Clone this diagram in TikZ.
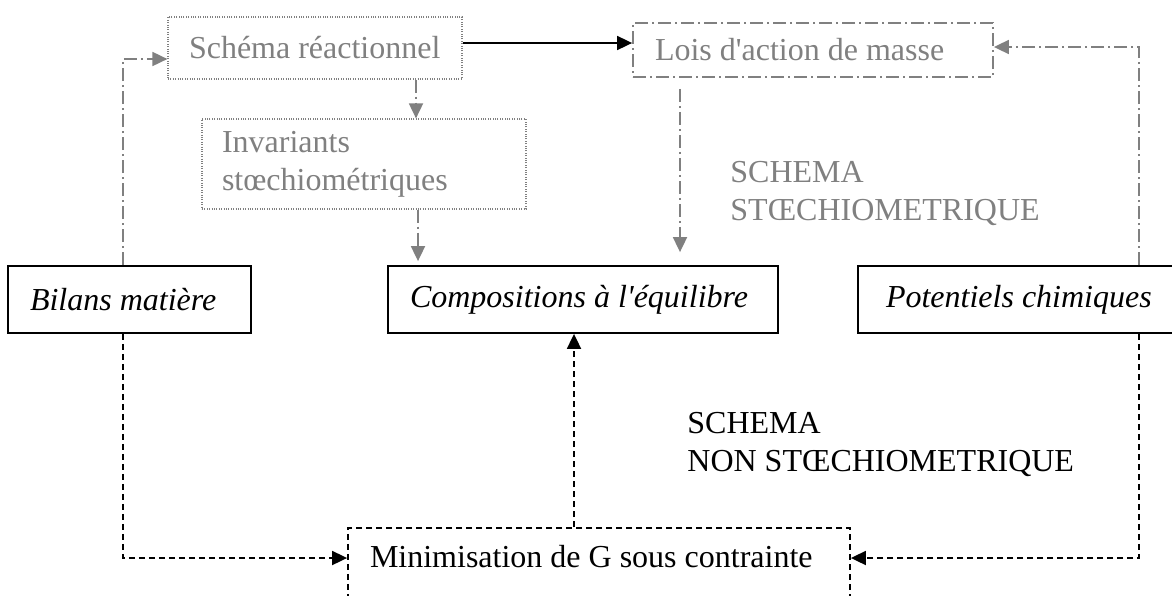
\documentclass[tikz,border=0pt]{standalone}
\usepackage{fontspec}
\setmainfont{Liberation Serif}
\usetikzlibrary{arrows.meta,calc}
\definecolor{gr}{HTML}{808080}
\newcommand{\lt}[2]{\makebox[#1][l]{#2}}
\begin{document}
\begin{tikzpicture}[x=0.5pt,y=-0.5pt,
  font=\fontsize{16}{19}\selectfont,
  tip/.style={-{Triangle[length=7.5pt,width=7pt]}},
  bbox/.style={draw=black, line width=0.9pt, font=\fontsize{16}{19}\selectfont\itshape, inner ysep=0pt},
  gdot/.style={draw=gr, text=gr, line width=0.6pt, dash pattern=on 0.5pt off 0.7pt, inner ysep=0pt},
  gdd/.style={draw=gr, text=gr, line width=0.9pt, dash pattern=on 6.5pt off 2pt on 1pt off 2pt, inner ysep=0pt},
  dbox/.style={draw=black, line width=0.9pt, dash pattern=on 3pt off 2pt, inner ysep=0pt},
  garr/.style={tip, draw=gr, line width=0.9pt, dash pattern=on 6.5pt off 2pt on 1pt off 2pt},
  darr/.style={tip, draw=black, line width=0.9pt, dash pattern=on 3pt off 2pt},
  sarr/.style={tip, draw=black, line width=0.9pt}]
\useasboundingbox (0,0) rectangle (1172,595);
\clip (0,0) rectangle (1172,595);

\node[gdot, minimum width=147pt, minimum height=31pt, inner xsep=10.5pt] (sch) at (315,48) {\lt{126pt}{Schéma réactionnel}};
\node[gdd, minimum width=180pt, minimum height=27pt, inner xsep=11pt] (lois) at (813,50) {\lt{158pt}{Lois d\textquotesingle action de masse}};
\node[gdot, minimum width=162pt, minimum height=45pt, inner xsep=10pt, text width=142pt, align=left] (inv) at (364,164) {Invariants\\stœchiométriques};
\node[bbox, minimum width=121.5pt, minimum height=33.5pt, inner xsep=11pt] (bil) at (129.5,299.5) {\lt{99.5pt}{Bilans matière}};
\node[bbox, minimum width=195pt, minimum height=33.5pt, inner xsep=11pt] (comp) at (583,299.5) {\lt{173pt}{Compositions à l\textquotesingle équilibre}};
\node[bbox, minimum width=158pt, minimum height=33.5pt, inner xsep=14pt] (pot) at (1016,299.5) {\lt{130pt}{Potentiels chimiques}};
\node[dbox, anchor=north, minimum width=251pt, inner xsep=11pt, text height=20pt, text depth=25pt] (min) at (599,527) {\lt{229pt}{Minimisation de G sous contrainte}};

\node[text=gr, anchor=north west, inner sep=0pt, align=left] (lab1) at (730,161) {SCHEMA\\STŒCHIOMETRIQUE};
\node[anchor=north west, inner sep=0pt, align=left] (lab2) at (687,412) {SCHEMA\\NON STŒCHIOMETRIQUE};

\coordinate (lx) at (123,0);
\coordinate (rx) at (1139,0);
\coordinate (gx) at (416,0);
\coordinate (gx2) at (418,0);
\coordinate (lmx) at (680,0);
\coordinate (ux) at (574,0);

\draw[garr] (bil.north -| lx) |- ([yshift=-5.5pt]sch.west);
\draw[garr] (pot.north -| rx) |- ([yshift=1.5pt]lois.east);
\draw[sarr] ([yshift=2.5pt]sch.east) -- ([yshift=2.5pt]sch.east -| lois.west);
\draw[garr] (sch.south -| gx) -- (inv.north -| gx);
\draw[garr, shorten >=2pt] (inv.south -| gx2) -- (comp.north -| gx2);
\draw[garr, shorten <=5.5pt, shorten >=6.5pt] (lois.south -| lmx) -- (comp.north -| lmx);
\draw[darr] (bil.south -| lx) |- ([yshift=-15.5pt]min.north west);
\draw[darr] (pot.south -| rx) |- ([yshift=-15.5pt]min.north east);
\draw[darr] (min.north -| ux) -- (comp.south -| ux);
\end{tikzpicture}
\end{document}
